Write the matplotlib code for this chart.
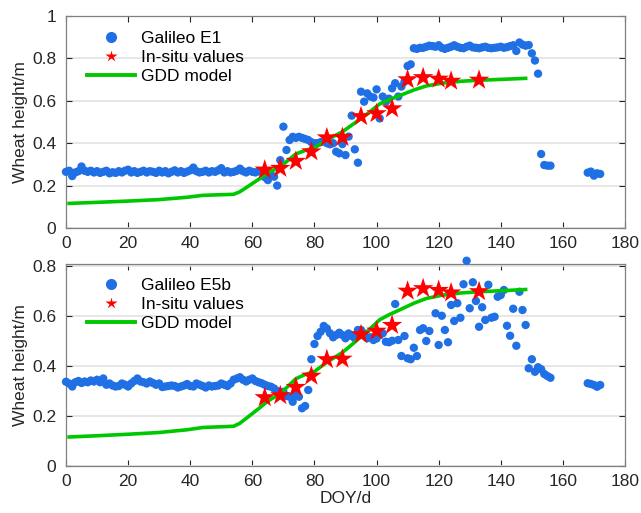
import matplotlib
matplotlib.use("Agg")
import matplotlib.pyplot as plt
from matplotlib.lines import Line2D

plt.rcParams['font.family'] = ['Liberation Sans', 'DejaVu Sans']

# ---------------- data ----------------
# Galileo E1 (top panel)
e1_base_days = list(range(0, 63))
e1_base_vals = [0.265, 0.27, 0.245, 0.262, 0.268, 0.29, 0.27, 0.265, 0.27, 0.262,
                0.268, 0.26, 0.265, 0.27, 0.258, 0.263, 0.26, 0.268, 0.262, 0.27,
                0.275, 0.262, 0.268, 0.26, 0.265, 0.27, 0.262, 0.268, 0.265, 0.26,
                0.27, 0.262, 0.268, 0.258, 0.265, 0.272, 0.262, 0.268, 0.26, 0.266,
                0.272, 0.285, 0.268, 0.262, 0.265, 0.27, 0.262, 0.268, 0.265, 0.272,
                0.282, 0.262, 0.268, 0.262, 0.265, 0.27, 0.28, 0.268, 0.262, 0.27,
                0.265, 0.262, 0.268]
e1_grow_days = [63, 64, 65, 66, 67, 68, 69, 70, 71, 72, 73, 74, 75, 76, 77, 78, 79,
                80, 81, 82, 83, 84, 85, 86, 87, 88, 89, 90, 91, 92, 93, 94, 95, 96,
                97, 98, 99, 100, 101, 102, 103, 104, 105, 106, 107, 108, 109, 110,
                111, 112]
e1_grow_vals = [0.265, 0.24, 0.226, 0.25, 0.242, 0.20, 0.32, 0.478, 0.368, 0.415,
                0.43, 0.425, 0.43, 0.425, 0.42, 0.415, 0.405, 0.40, 0.40, 0.405,
                0.41, 0.40, 0.395, 0.40, 0.36, 0.352, 0.396, 0.344, 0.431, 0.53,
                0.371, 0.308, 0.643, 0.596, 0.635, 0.62, 0.615, 0.654, 0.517, 0.62,
                0.596, 0.61, 0.659, 0.683, 0.62, 0.667, 0.69, 0.764, 0.772, 0.848]
e1_plat_days = list(range(113, 149))
e1_plat_vals = [0.845, 0.85, 0.85, 0.855, 0.86, 0.858, 0.855, 0.862, 0.85, 0.845,
                0.85, 0.855, 0.862, 0.855, 0.85, 0.848, 0.855, 0.86, 0.852, 0.85,
                0.848, 0.852, 0.855, 0.85, 0.848, 0.85, 0.852, 0.855, 0.85, 0.853,
                0.858, 0.862, 0.835, 0.875, 0.865, 0.86]
e1_end_days = [149, 150, 151, 152, 153, 154, 155, 156, 168, 169, 170, 171, 172]
e1_end_vals = [0.863, 0.824, 0.79, 0.728, 0.349, 0.297, 0.294, 0.294,
               0.261, 0.266, 0.247, 0.258, 0.255]

# Galileo E5b (bottom panel)
e5_base_days = list(range(0, 59))
e5_base_vals = [0.337, 0.33, 0.318, 0.335, 0.34, 0.332, 0.338, 0.335, 0.342, 0.338,
                0.345, 0.335, 0.35, 0.325, 0.33, 0.322, 0.318, 0.32, 0.33, 0.325,
                0.318, 0.33, 0.34, 0.35, 0.338, 0.335, 0.33, 0.338, 0.332, 0.325,
                0.33, 0.316, 0.318, 0.32, 0.322, 0.32, 0.314, 0.318, 0.322, 0.328,
                0.32, 0.318, 0.33, 0.325, 0.32, 0.314, 0.322, 0.318, 0.32, 0.322,
                0.33, 0.325, 0.32, 0.33, 0.345, 0.35, 0.355, 0.345, 0.338]
e5_rest_days = [59, 60, 61, 62, 63, 64, 65, 66, 67, 68, 69, 70, 71, 72, 73, 74, 75,
                76, 77, 78, 79, 80, 81, 82, 83, 84, 85, 86, 87, 88, 89, 90, 91, 92,
                93, 94, 95, 96, 97, 98, 99, 100, 101, 102, 103, 104, 105, 106, 107,
                108, 109, 110, 111, 112, 113, 114, 115, 116, 117, 119, 120, 121,
                122, 123, 124, 125, 126, 127, 128, 129, 130, 131, 132, 133, 134,
                135, 136, 137, 138, 139, 140, 141, 142, 143, 144, 145, 146, 147,
                148, 149, 150, 151, 152, 153, 154, 155, 156,
                168, 169, 170, 171, 172]
e5_rest_vals = [0.345, 0.35, 0.34, 0.335, 0.331, 0.325, 0.32, 0.317, 0.31, 0.30,
                0.29, 0.297, 0.28, 0.277, 0.257, 0.284, 0.277, 0.231, 0.24, 0.304,
                0.427, 0.488, 0.52, 0.537, 0.56, 0.55, 0.531, 0.515, 0.524, 0.533,
                0.524, 0.511, 0.53, 0.52, 0.511, 0.544, 0.544, 0.53, 0.511, 0.515,
                0.504, 0.51, 0.524, 0.531, 0.497, 0.495, 0.501, 0.648, 0.504, 0.44,
                0.52, 0.431, 0.427, 0.473, 0.44, 0.544, 0.551, 0.5, 0.54, 0.611,
                0.484, 0.601, 0.544, 0.495, 0.644, 0.58, 0.651, 0.593, 0.727, 0.821,
                0.631, 0.735, 0.66, 0.557, 0.635, 0.584, 0.725, 0.593, 0.597, 0.677,
                0.684, 0.704, 0.561, 0.521, 0.629, 0.481, 0.697, 0.624, 0.564, 0.391,
                0.427, 0.377, 0.395, 0.387, 0.368, 0.36, 0.353,
                0.331, 0.328, 0.324, 0.317, 0.324]

# In-situ values
insitu_days = [64, 69, 74, 79, 84, 89, 95, 100, 105, 110, 115, 120, 124, 133]
insitu_vals = [0.274, 0.282, 0.315, 0.36, 0.426, 0.428, 0.526, 0.54, 0.563, 0.70,
               0.71, 0.703, 0.693, 0.698]

# GDD model
gdd_days = [1, 10, 20, 30, 39, 44, 50, 54, 56, 59, 62.5, 65, 69, 74, 77, 80, 84,
            89, 92, 95, 98, 101, 104, 107, 112, 116, 121, 127, 133, 140, 148]
gdd_vals = [0.116, 0.121, 0.127, 0.134, 0.145, 0.154, 0.157, 0.159, 0.171, 0.2,
            0.234, 0.26, 0.289, 0.349, 0.366, 0.378, 0.415, 0.454, 0.485, 0.517,
            0.55, 0.585, 0.605, 0.622, 0.651, 0.67, 0.683, 0.692, 0.697, 0.701,
            0.706]

xticks = [0, 20, 40, 60, 80, 100, 120, 140, 160, 180]

# ---------------- style ----------------
BLUE = '#1F6FE5'
RED = '#FF0000'
GREEN = '#00C800'
FS = 12.5

fig = plt.figure(figsize=(6.41, 5.13), dpi=100)
W, H = 641, 513
ax1 = fig.add_axes([66 / W, 1 - 228 / H, 559 / W, 212 / H])
ax2 = fig.add_axes([66 / W, 1 - 466 / H, 559 / W, 202 / H])


def style(ax, ymax, yticks, ylabels):
    ax.set_xlim(0, 180)
    ax.set_ylim(0, ymax)
    ax.set_xticks(xticks)
    ax.set_xticklabels([str(t) for t in xticks], fontsize=FS)
    ax.set_yticks(yticks)
    ax.set_yticklabels(ylabels, fontsize=FS)
    ax.tick_params(direction='in', top=True, right=True, length=4, width=0.8,
                   colors='#262626')
    ax.tick_params(axis='x', pad=6)
    ax.tick_params(axis='y', pad=7)
    for s in ax.spines.values():
        s.set_color('#808080')
        s.set_linewidth(0.9)
    ax.yaxis.grid(True, color='#E3E3E3', linewidth=1.2)
    ax.set_axisbelow(True)
    ax.set_ylabel('Wheat height/m', fontsize=FS, color='#262626', labelpad=3)


def draw(ax, days_list, vals_list, label):
    for d, v in zip(days_list, vals_list):
        ax.scatter(d, v, s=36, color=BLUE, edgecolors='none', zorder=3,
                   clip_on=False)
    ax.plot(gdd_days, gdd_vals, color=GREEN, linewidth=2.6, zorder=4)
    ax.scatter(insitu_days, insitu_vals, marker='*', s=240, color=RED,
               edgecolors='none', zorder=5)
    handles = [
        Line2D([], [], linestyle='none', marker='o', markersize=8,
               color=BLUE, markeredgecolor='none'),
        Line2D([], [], linestyle='none', marker='*', markersize=9,
               color=RED, markeredgecolor='none'),
        Line2D([], [], color=GREEN, linewidth=2.8),
    ]
    ax.legend(handles, [label, 'In-situ values', 'GDD model'],
              loc='upper left', bbox_to_anchor=(0.037, 0.93), frameon=False,
              fontsize=FS, handlelength=2.8, handletextpad=0.35,
              labelspacing=0.22, borderpad=0, borderaxespad=0)


style(ax1, 1.0, [0, 0.2, 0.4, 0.6, 0.8, 1.0], ['0', '0.2', '0.4', '0.6', '0.8', '1'])
draw(ax1, [e1_base_days, e1_grow_days, e1_plat_days, e1_end_days],
     [e1_base_vals, e1_grow_vals, e1_plat_vals, e1_end_vals], 'Galileo E1')

style(ax2, 0.808, [0, 0.2, 0.4, 0.6, 0.8], ['0', '0.2', '0.4', '0.6', '0.8'])
draw(ax2, [e5_base_days, e5_rest_days], [e5_base_vals, e5_rest_vals], 'Galileo E5b')
ax2.set_xlabel('DOY/d', fontsize=FS, color='#262626', labelpad=1)

fig.savefig('out.png', dpi=100)
